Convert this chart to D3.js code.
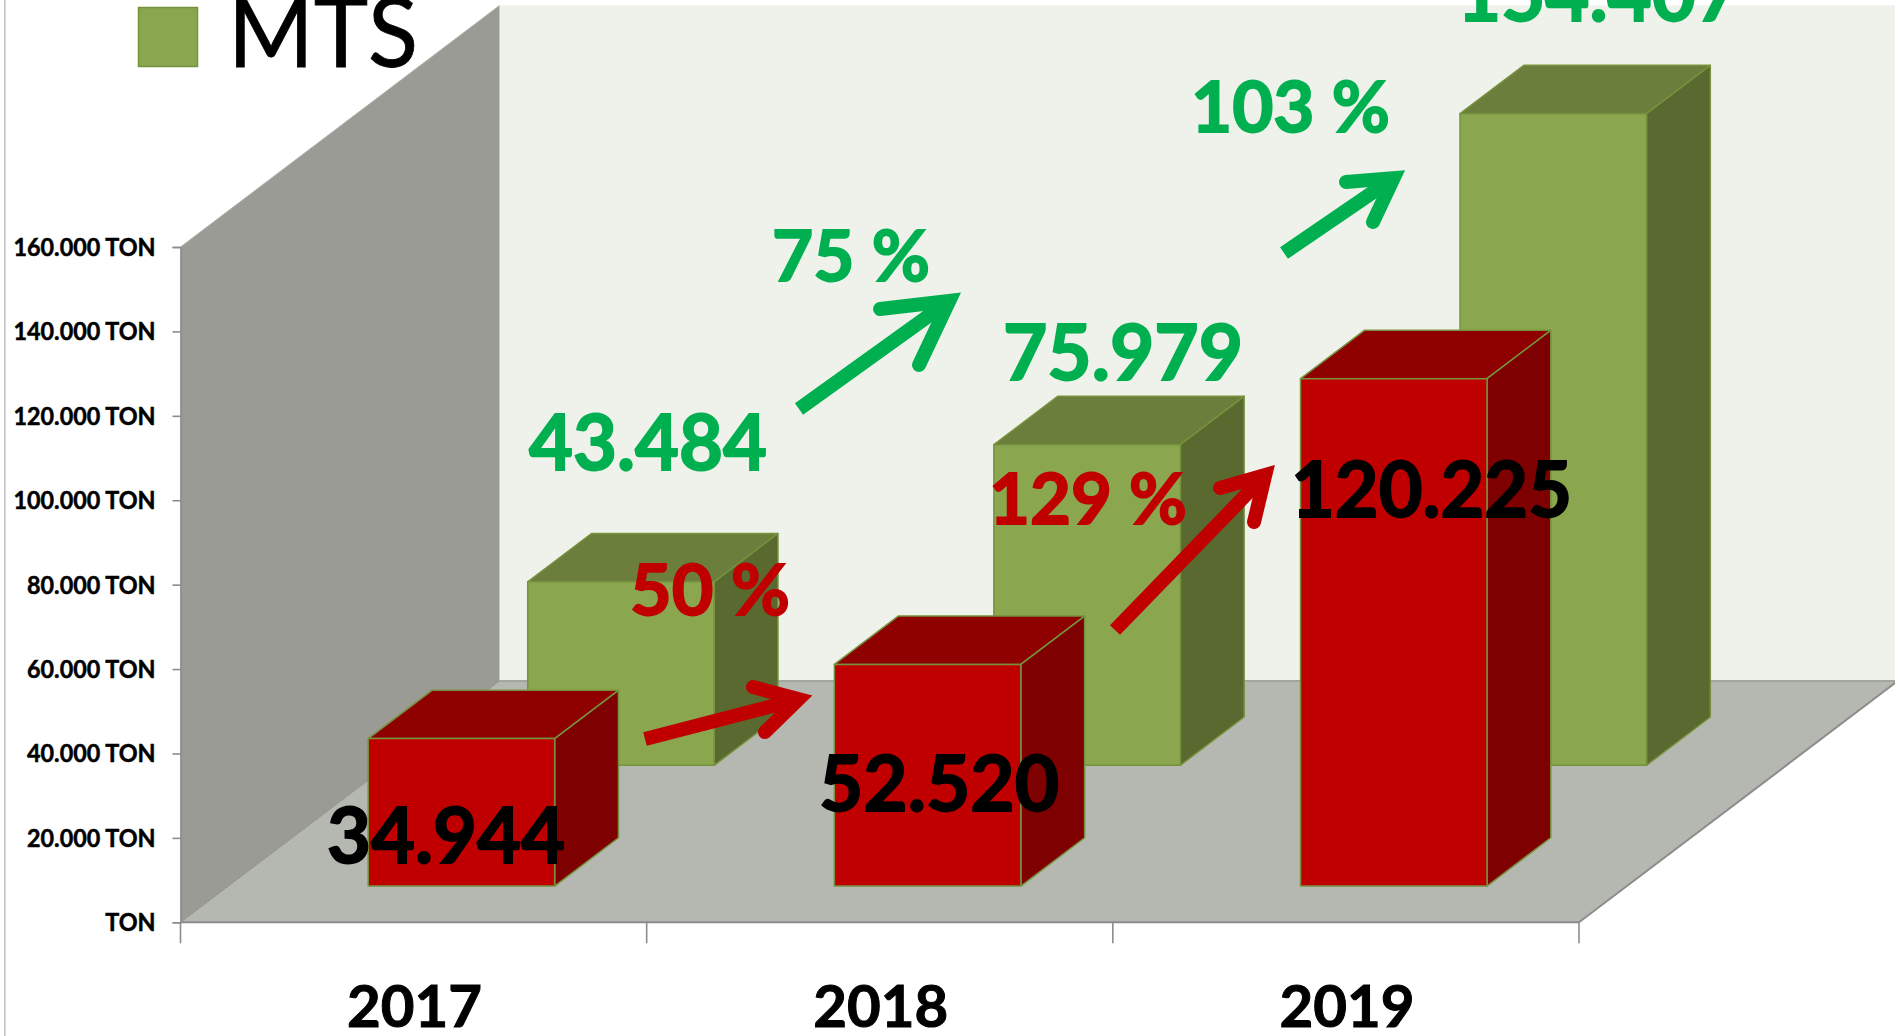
<!DOCTYPE html>
<html>
<head>
<meta charset="utf-8">
<style>
html,body{margin:0;padding:0;background:#fff;overflow:hidden}
svg{display:block}
text{font-family:Lato,"Open Sans",sans-serif}
</style>
<script src="https://cdn.jsdelivr.net/npm/d3@7"></script>
</head>
<body>
<svg id="chart" width="1895" height="1036"></svg>
<script>
// ---- data ----
const years = ["2017", "2018", "2019"];
const seriesNames = ["MTS", "Other"];           // back row, front row
const mtsValues = [43484, 75979, 154407];
const otherValues = [34944, 52520, 120225];
const mtsLabels = ["43.484", "75.979", "154.407"];
const otherLabels = ["34.944", "52.520", "120.225"];
const mtsGrowth = ["75 %", "103 %"];
const otherGrowth = ["50 %", "129 %"];
const yTicks = [0, 20000, 40000, 60000, 80000, 100000, 120000, 140000, 160000];
const legendLabels = ["MTS"];

// ---- colours ----
const GREEN = {front:"#8aa64f", top:"#6c7e3b", side:"#59692f", stroke:"#76923c"};
const RED   = {front:"#c00000", top:"#8f0000", side:"#7e0000", stroke:"#76923c"};
const TXT_GREEN = "#00b050", TXT_RED = "#c00000", TXT_BLACK = "#000";

// ---- scales and 3-D projection ----
const W = 1895, H = 1036;
const plot = {x0:180.5, x1:1579, y0:922.3, y1:247, depthX:319, depthY:241.5};
const x = d3.scaleBand().domain(years).range([plot.x0, plot.x1]);
const y = d3.scaleLinear().domain([0, 160000]).range([plot.y0, plot.y1]);
const z = d3.scaleBand().domain(["Other", "MTS"]).range([0, 1]);
const proj = (px, py, d) => [px + d*plot.depthX, py - d*plot.depthY];
const pts = a => a.map(p => p.join(",")).join(" ");

const svg = d3.select("#chart");

// left edge rule of the slide
svg.append("rect").attr("x",4).attr("y",0).attr("width",1.6).attr("height",H).attr("fill","#c4c4c4");

// walls and floor
const back = proj(plot.x0, plot.y1, 1), backBase = proj(plot.x0, plot.y0, 1);
svg.append("rect").attr("x",back[0]).attr("y",back[1]).attr("width",W-back[0]).attr("height",backBase[1]-back[1]).attr("fill","#eff2eb");
svg.append("polygon").attr("points",pts([[plot.x0,plot.y1],back,backBase,[plot.x0,plot.y0]])).attr("fill","#999b94");
const floorPts = [[plot.x0,plot.y0],[plot.x1,plot.y0],proj(plot.x1,plot.y0,1),backBase];
svg.append("polygon").attr("points",pts(floorPts)).attr("fill","#b5b8b0");
svg.append("path").attr("d",`M${backBase}L${W},${backBase[1]}`).attr("stroke","#8f918c").attr("stroke-width",1.2);
svg.append("path").attr("d",`M${floorPts[1]}L${floorPts[2]}`).attr("stroke","#8c8c8c").attr("stroke-width",2).attr("fill","none");
svg.append("path").attr("d",`M${plot.x0},${plot.y0}L${backBase}`).attr("stroke","#8f918c").attr("stroke-width",1);
svg.append("path").attr("d",`M${plot.x0},${plot.y1}L${back}`).attr("stroke","#b0b2ac").attr("stroke-width",1);

// bars
function drawBars(name, values, col){
  const zInset = z(name) + z.bandwidth()*0.3, zDepth = z.bandwidth()*0.4;
  const g = svg.append("g");
  years.forEach((yr, i) => {
    const xl = x(yr) + x.bandwidth()*0.3, xr = xl + x.bandwidth()*0.4;
    const f = d => [proj(xl, y(values[i]), d), proj(xr, y(values[i]), d), proj(xr, y(0), d), proj(xl, y(0), d)];
    const a = f(zInset), b = f(zInset + zDepth);
    const bar = g.append("g").attr("stroke",col.stroke).attr("stroke-width",1.5).attr("stroke-linejoin","round");
    bar.append("polygon").attr("points",pts([a[0],b[0],b[1],a[1]])).attr("fill",col.top);
    bar.append("polygon").attr("points",pts([a[1],b[1],b[2],a[2]])).attr("fill",col.side);
    bar.append("polygon").attr("points",pts(a)).attr("fill",col.front);
  });
}
drawBars("MTS", mtsValues, GREEN);
drawBars("Other", otherValues, RED);

// y axis
const fmtTick = v => (v === 0 ? "" : d3.format(",.0f")(v).replace(/,/g, ".") + " ") + "TON";
const yAxis = svg.append("g").attr("transform",`translate(${plot.x0},0)`)
  .call(d3.axisLeft(y).tickValues(yTicks).tickFormat(fmtTick).tickSize(8).tickPadding(17));
yAxis.selectAll("path,line").attr("stroke","#8c8c8c").attr("stroke-width",1.6);
yAxis.selectAll("text").attr("font-size",24).attr("font-weight",700).attr("fill","#000").attr("font-family","Lato")
  .attr("stroke","#000").attr("stroke-width",0.5).attr("dy","0.35em");
const refLabel = yAxis.selectAll("text").filter(d => d === 160000).node();
const tickRatio = 142 / refLabel.getComputedTextLength();
yAxis.selectAll("text").each(function(){
  d3.select(this).attr("textLength", this.getComputedTextLength()*tickRatio).attr("lengthAdjust","spacingAndGlyphs");
});

// x axis
svg.append("line").attr("x1",plot.x0).attr("x2",plot.x1).attr("y1",plot.y0).attr("y2",plot.y0).attr("stroke","#8c8c8c").attr("stroke-width",2);
const boundaries = years.map(yr => x(yr)).concat([plot.x1]);
svg.append("g").selectAll("line").data(boundaries).join("line")
  .attr("x1",d=>d).attr("x2",d=>d).attr("y1",plot.y0).attr("y2",plot.y0+21)
  .attr("stroke","#8c8c8c").attr("stroke-width",1.6);
svg.append("g").selectAll("text").data(years).join("text")
  .attr("x",d=>x(d)+x.bandwidth()/2+1).attr("y",1027).attr("text-anchor","middle")
  .attr("font-size",58).attr("font-weight",700).attr("fill","#000").attr("stroke","#000").attr("stroke-width",1)
  .attr("textLength",135).attr("lengthAdjust","spacingAndGlyphs").text(d=>d);

// legend
svg.append("rect").attr("x",138.5).attr("y",7.5).attr("width",59).attr("height",59)
  .attr("fill",GREEN.front).attr("stroke",GREEN.stroke).attr("stroke-width",1.5);
svg.append("text").attr("x",228).attr("y",67).attr("font-size",96).attr("font-weight",400).attr("fill","#000")
  .attr("stroke","#000").attr("stroke-width",0.8)
  .attr("textLength",190).attr("lengthAdjust","spacingAndGlyphs").text(legendLabels[0]);

// arrows (annotation layer)
function arrow(a){
  const dx=a.tip[0]-a.tail[0], dy=a.tip[1]-a.tail[1], L=Math.hypot(dx,dy), ux=dx/L, uy=dy/L;
  const g=svg.append("g");
  const wing=p=>{const ax=p[0]-a.tip[0],ay=p[1]-a.tip[1],l=Math.hypot(ax,ay);return [ax/l,ay/l];};
  const w1=wing(a.w1),cosA=-(w1[0]*ux+w1[1]*uy),ang=Math.acos(cosA);
  const m=(a.w/2)/Math.sin(ang)*0.72;
  const v=[a.tip[0]-ux*m,a.tip[1]-uy*m];
  g.append("line").attr("x1",a.tail[0]).attr("y1",a.tail[1]).attr("x2",v[0]).attr("y2",v[1])
    .attr("stroke",a.c).attr("stroke-width",a.w);
  g.append("path").attr("d",`M${a.w1}L${v}L${a.w2}`).attr("fill","none").attr("stroke",a.c)
    .attr("stroke-width",a.w).attr("stroke-linecap","round").attr("stroke-linejoin","miter").attr("stroke-miterlimit",20);
}
[
  {tail:[645,739],tip:[811,696],w1:[753,687],w2:[765,732],w:14,c:TXT_RED},
  {tail:[1115,630],tip:[1274,466],w1:[1220,488],w2:[1254,522],w:14,c:TXT_RED},
  {tail:[799,409],tip:[959,294],w1:[880,309],w2:[919,365],w:14,c:TXT_GREEN},
  {tail:[1284,253],tip:[1404,171],w1:[1346,182],w2:[1373,222],w:14,c:TXT_GREEN}
].forEach(arrow);

// value and growth labels
function label(t, x0, x1, base, size, c){
  svg.append("text").attr("x",x0).attr("y",base).attr("font-size",size).attr("font-weight",700).attr("fill",c)
    .attr("stroke",c).attr("stroke-width",1.8)
    .attr("textLength",x1-x0).attr("lengthAdjust","spacingAndGlyphs").text(t);
}
label(mtsLabels[0], 529, 767, 470, 76, TXT_GREEN);
label(mtsLabels[1], 1003, 1243, 380, 76, TXT_GREEN);
label(mtsLabels[2], 1457, 1740, 21, 76, TXT_GREEN);
label(otherLabels[0], 327, 565, 863, 76, TXT_BLACK);
label(otherLabels[1], 819, 1059, 811, 76, TXT_BLACK);
label(otherLabels[2], 1291, 1572, 517, 76, TXT_BLACK);
label(mtsGrowth[0], 772, 930, 281, 71, TXT_GREEN);
label(mtsGrowth[1], 1191, 1390, 132, 71, TXT_GREEN);
label(otherGrowth[0], 630, 790, 615, 71, TXT_RED);
label(otherGrowth[1], 989, 1187, 524, 71, TXT_RED);
</script>
</body>
</html>
